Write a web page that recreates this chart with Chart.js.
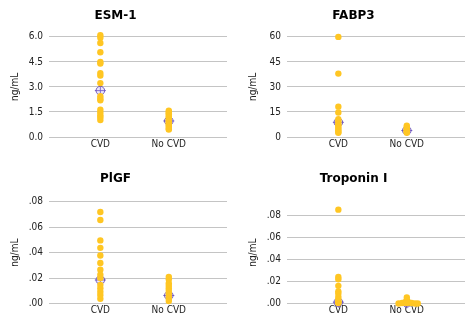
<!DOCTYPE html>
<html>
<head>
<meta charset="utf-8">
<script src="https://cdn.jsdelivr.net/npm/chart.js@4"></script>
<style>
  body { margin: 0; background: #fff; width: 476px; height: 326px; overflow: hidden; position: relative; }
  canvas { position: absolute; }
</style>
</head>
<body>
<canvas id="esm" width="238" height="163" style="left:0;top:0"></canvas>
<canvas id="fabp" width="238" height="163" style="left:238px;top:0"></canvas>
<canvas id="plgf" width="238" height="163" style="left:0;top:163px"></canvas>
<canvas id="trop" width="238" height="163" style="left:238px;top:163px"></canvas>
<script>
const categories = ['CVD', 'No CVD'];

// ESM-1
const esmCvd = [6.1, 5.95, 5.63, 5.08, 4.5, 4.4, 3.83, 3.68, 3.23, 2.45, 2.3, 2.2, 1.63, 1.47, 1.3, 1.19, 1.02];
const esmNoCvd = [1.58, 1.5, 1.42, 1.35, 1.25, 1.15, 1.05, 0.98, 0.9, 0.82, 0.75, 0.68, 0.6, 0.5, 0.45];
const esmMarks = [2.78, 0.96];
const esmTicks = [0, 1.5, 3.0, 4.5, 6.0];

// FABP3
const fabpCvd = [60, 38, 18.2, 14.7, 10.7, 9.5, 8, 7, 6, 5, 4, 3, 2.5];
const fabpNoCvd = [6.8, 6, 5.2, 4.5, 4, 3.5, 3, 2.5];
const fabpMarks = [8.8, 3.9];
const fabpTicks = [0, 15, 30, 45, 60];

// PlGF
const plgfCvd = [0.072, 0.0657, 0.0497, 0.0438, 0.0378, 0.0319, 0.0266, 0.0226, 0.02, 0.0147, 0.012, 0.0093, 0.0067, 0.0037];
const plgfNoCvd = [0.021, 0.019, 0.016, 0.014, 0.012, 0.010, 0.008, 0.006, 0.004, 0.002];
const plgfMarks = [0.0185, 0.0063];
const plgfTicks = [0, 0.02, 0.04, 0.06, 0.08];

// Troponin I
const tropCvd = [0.085, 0.024, 0.022, 0.016, 0.011, 0.009, 0.006, 0.004, 0.002, 0.001, 0.0005];
const tropNoCvd = [0.0055, 0.003, 0.001, 0.001, 0.001, 0.0005, 0.0005, 0.0005, 0, 0, 0];
const tropJitter = [0, 0, -0.03, 0.03, 0, -0.07, 0.07, 0, -0.12, 0.12, 0.16];
const tropMarks = [0.0012, 0.0006];
const tropTicks = [0, 0.02, 0.04, 0.06, 0.08];

const font = { family: 'DejaVu Sans Condensed, DejaVu Sans', size: 10 };
const markColor = 'rgba(95, 70, 185, 0.85)';

function build(id, name, cvd, noCvd, marks, ticks, fmt, yMax, titleGap, padBottom, jitter) {
    const pts = cvd.map(v => ({ x: 1, y: v }))
        .concat(noCvd.map((v, i) => ({ x: 2 + (jitter ? jitter[i] : 0), y: v })));
    const markPts = marks.map((v, i) => ({ x: i + 1, y: v }));
    new Chart(document.getElementById(id), {
        type: 'scatter',
        data: {
            datasets: [
                { data: pts, backgroundColor: '#FFC623', borderWidth: 0, pointRadius: 3.2, clip: false },
                { data: markPts, pointStyle: 'circle', pointRadius: 4.3, borderColor: markColor,
                  backgroundColor: 'rgba(170, 150, 235, 0.25)', borderWidth: 1, clip: false },
                { data: markPts, pointStyle: 'cross', pointRadius: 5.5, borderColor: markColor,
                  borderWidth: 1, clip: false },
            ],
        },
        options: {
            responsive: false,
            animation: false,
            layout: { padding: { left: 4, right: 11, top: 0, bottom: padBottom } },
            plugins: {
                legend: { display: false },
                tooltip: { enabled: false },
                title: {
                    display: true, text: name, color: '#000',
                    font: { family: 'DejaVu Sans', weight: 'bold', size: 12 },
                    padding: { top: 9, bottom: titleGap },
                },
            },
            scales: {
                x: {
                    type: 'linear', min: 0.25, max: 2.85,
                    grid: { display: false, drawTicks: false },
                    border: { display: false },
                    afterBuildTicks: s => { s.ticks = [{ value: 1 }, { value: 2 }]; },
                    ticks: { callback: v => categories[v - 1], color: '#222', font: font, padding: 1 },
                },
                y: {
                    min: 0, max: yMax,
                    afterBuildTicks: s => { s.ticks = ticks.map(v => ({ value: v })); },
                    afterFit: s => { s.width = 45; },
                    grid: { color: '#c4c4c4', drawTicks: false },
                    border: { display: false },
                    ticks: { callback: fmt, padding: 6, color: '#222', font: font },
                    title: { display: true, text: 'ng/mL', color: '#222', font: font, padding: { top: 5, bottom: 1 } },
                },
            },
        },
    });
}

const dec1 = v => v.toFixed(1);
const int0 = v => v.toFixed(0);
const dec2 = v => v.toFixed(2).replace(/^0/, '');

build('esm', 'ESM-1', esmCvd, esmNoCvd, esmMarks, esmTicks, dec1, 6.0, 13.5, 12);
build('fabp', 'FABP3', fabpCvd, fabpNoCvd, fabpMarks, fabpTicks, int0, 60, 13.5, 12);
build('plgf', 'PlGF', plgfCvd, plgfNoCvd, plgfMarks, plgfTicks, dec2, 0.08, 15.5, 8.5);
build('trop', 'Troponin I', tropCvd, tropNoCvd, tropMarks, tropTicks, dec2, 0.092, 15.5, 8.5, tropJitter);
</script>
</body>
</html>
